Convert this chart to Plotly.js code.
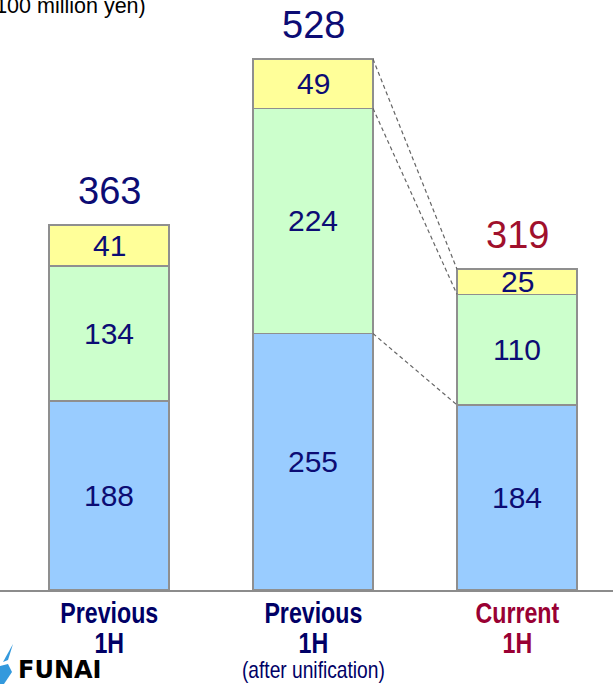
<!DOCTYPE html>
<html>
<head>
<meta charset="utf-8">
<script src="https://cdn.plot.ly/plotly-3.0.1.min.js"></script>
<style>html,body{margin:0;padding:0;background:#fff;}#chart{width:613px;height:686px;}</style>
</head>
<body>
<div id="chart"></div>
<script>
// ---- data ----
var categories = ['Previous 1H', 'Previous 1H (after unification)', 'Current 1H'];
var blueValues = [188, 255, 184];
var greenValues = [134, 224, 110];
var yellowValues = [41, 49, 25];
var totals = [363, 528, 319];
var labelLines = [['Previous', '1H'], ['Previous', '1H', '(after unification)'], ['Current', '1H']];
var unitText = '(100 million yen)';
var logoText = 'FUNAI';

// ---- layout helpers ----
var W = 613, H = 686, B = 96;
var plotH = H - B;
function px(x) { return x / W; }
function py(y) { return (plotH - y) / plotH; }

var xs = [0, 1, 2];
var barW = 0.588;
var lineStyle = {color: '#8f8f8f', width: 1.5};

function barTrace(vals, color) {
  return {
    type: 'bar', x: xs, y: vals, width: barW,
    marker: {color: color, line: lineStyle},
    hoverinfo: 'skip', textposition: 'none'
  };
}

var data = [
  barTrace(blueValues, '#99ccff'),
  barTrace(greenValues, '#ccffcc'),
  barTrace(yellowValues, '#ffff99')
];

var annotations = [];
var navy = '#0c0c74';
var red = '#a0102c';
var segFont = {family: 'Arial, Liberation Sans, sans-serif', size: 30, color: navy};

for (var i = 0; i < xs.length; i++) {
  var b = blueValues[i], g = greenValues[i], yv = yellowValues[i];
  annotations.push({x: xs[i], y: b / 2, xref: 'x', yref: 'y', text: String(b), showarrow: false, font: segFont, yanchor: 'middle'});
  annotations.push({x: xs[i], y: b + g / 2, xref: 'x', yref: 'y', text: String(g), showarrow: false, font: segFont, yanchor: 'middle'});
  annotations.push({x: xs[i], y: b + g + yv / 2, xref: 'x', yref: 'y', text: String(yv), showarrow: false, font: segFont, yanchor: 'middle'});
  annotations.push({x: xs[i], y: totals[i], xref: 'x', yref: 'y', text: String(totals[i]), showarrow: false,
    font: {family: 'Arial, Liberation Sans, sans-serif', size: 38, color: i === 2 ? red : navy},
    yanchor: 'middle', yshift: 34});
  var parts = labelLines[i].map(function (t, k) {
    return k === 2 ? '<span style="font-size:24px;font-weight:normal">' + t + '</span>' : '<b>' + t + '</b>';
  });
  annotations.push({x: xs[i], y: py(595), xref: 'x', yref: 'paper', text: parts.join('<br>'), showarrow: false,
    font: {family: 'Arial, Liberation Sans, sans-serif', size: 29, color: i === 2 ? '#990033' : '#000066'},
    yanchor: 'top', align: 'center'});
}

annotations.push({x: px(148), y: py(6), xref: 'paper', yref: 'paper', text: unitText, showarrow: false,
  xanchor: 'right', yanchor: 'middle', font: {family: 'Arial, Liberation Sans, sans-serif', size: 21.5, color: '#000'}});
annotations.push({x: px(16), y: py(670), xref: 'paper', yref: 'paper', text: '<b>' + logoText + '</b>', showarrow: false,
  xanchor: 'left', yanchor: 'middle', font: {family: 'DejaVu Sans, sans-serif', size: 24, color: '#000'}});

// dashed connectors between bar 2 and bar 3
var shapes = [];
var levels = [
  [blueValues[1], blueValues[2]],
  [blueValues[1] + greenValues[1], blueValues[2] + greenValues[2]],
  [totals[1], totals[2]]
];
levels.forEach(function (lv) {
  shapes.push({type: 'line', xref: 'x', yref: 'y', x0: xs[1] + barW / 2, y0: lv[0], x1: xs[2] - barW / 2, y1: lv[1],
    line: {color: '#666666', width: 1.2, dash: '4px,3px'}});
});

// logo swoosh
function P(x, y) { return px(x).toFixed(4) + ',' + py(y).toFixed(4); }
shapes.push({type: 'path', xref: 'paper', yref: 'paper',
  path: 'M' + P(13, 644) + ' L' + P(3, 662) + ' L' + P(8, 660) + ' Z',
  fillcolor: '#3399dd', line: {width: 0}});
shapes.push({type: 'path', xref: 'paper', yref: 'paper',
  path: 'M' + P(0, 666) + ' L' + P(8, 664) + ' L' + P(12, 672) + ' L' + P(4, 684) + ' L' + P(0, 684) + ' Z',
  fillcolor: '#3399dd', line: {width: 0}});

var layout = {
  width: W, height: H,
  margin: {l: 0, r: 0, t: 0, b: B, pad: 0},
  barmode: 'stack',
  showlegend: false,
  paper_bgcolor: '#fff', plot_bgcolor: '#fff',
  xaxis: {range: [-109 / 204, (W - 109) / 204], showgrid: false, zeroline: false, showticklabels: false,
    showline: true, linecolor: '#8c8c8c', linewidth: 2, ticks: '', fixedrange: true},
  yaxis: {range: [0, plotH / 1.0057], showgrid: false, zeroline: false, showticklabels: false, showline: false, ticks: '', fixedrange: true},
  annotations: annotations,
  shapes: shapes
};

Plotly.newPlot('chart', data, layout, {displayModeBar: false, staticPlot: true}).then(function (gd) {
  // tighten line spacing (offsets from the first baseline) and condense labels horizontally
  var lineOffsets = [0, 30, 55];
  var nodes = gd.querySelectorAll('.annotation-text');
  nodes.forEach(function (el) {
    var lineSpans = el.querySelectorAll('tspan.line');
    if (lineSpans.length < 2) return;
    lineSpans.forEach(function (ts, k) { if (k > 0) ts.setAttribute('dy', lineOffsets[k]); });
    var bb = el.getBBox();
    var cx = bb.x + bb.width / 2;
    el.setAttribute('transform', 'translate(' + cx + ',0) scale(0.8,1) translate(' + (-cx) + ',0)');
  });
});
</script>
</body>
</html>
